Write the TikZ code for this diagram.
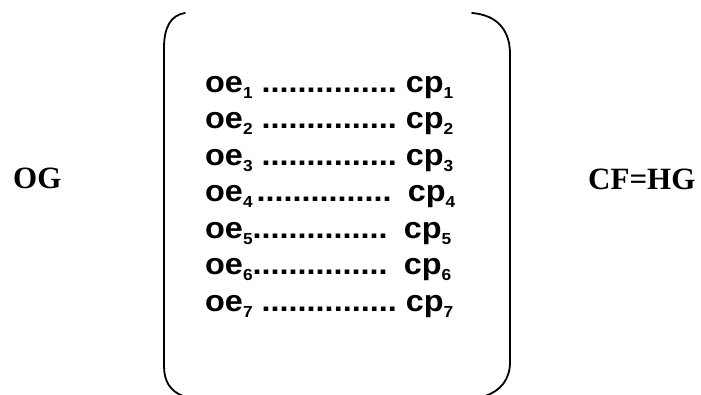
\documentclass[tikz,border=0pt]{standalone}
\usepackage{fontspec}
\setmainfont{Liberation Serif}
\setsansfont{Liberation Sans}
\usepackage{tikz}

\newcommand{\idx}[1]{\raisebox{-0.2em}{\fontsize{16}{16}\selectfont #1}}
\newcommand{\dotrow}{...............}
\newcommand{\wide}[1]{\scalebox{1.08}[1]{#1}}

\begin{document}
\begin{tikzpicture}[x=1pt, y=1pt,
    side/.style={anchor=base west, inner sep=0pt, font=\fontsize{31}{36}\selectfont\rmfamily\bfseries},
    pair/.style={anchor=base west, inner sep=0pt, font=\fontsize{30}{36}\selectfont\sffamily\bfseries},
    brace/.style={line width=1.8pt, line cap=round}]
  \useasboundingbox (0,0) rectangle (701,-394);
  % the two labels either side
  \node[side] (og) at (13,-188) {OG};
  \node[side] (cf) at (588,-189) {CF=HG};
  % left and right halves of the bracket
  \draw[brace] (185,-13) .. controls (171,-15) and (164,-27) .. (164,-48)
    -- (164,-366) .. controls (164,-381) and (170,-391) .. (183,-396);
  \draw[brace] (472,-13) .. controls (497,-15) and (510,-30) .. (510,-54)
    -- (510,-362) .. controls (510,-380) and (500,-391) .. (485,-396);
  % the seven rows
  \foreach \i/\pre/\post in {1/0.28/0.28, 2/0.28/0.28, 3/0.28/0.28, 4/0.12/0.5,
      5/0/0.5, 6/0/0.5, 7/0.28/0.28}
    \node[pair] (r\i) at (205,{-92-36.5*(\i-1)})
      {\wide{oe\idx{\i}\hspace{\pre em}\dotrow\hspace{\post em}cp\idx{\i}}};
\end{tikzpicture}
\end{document}
